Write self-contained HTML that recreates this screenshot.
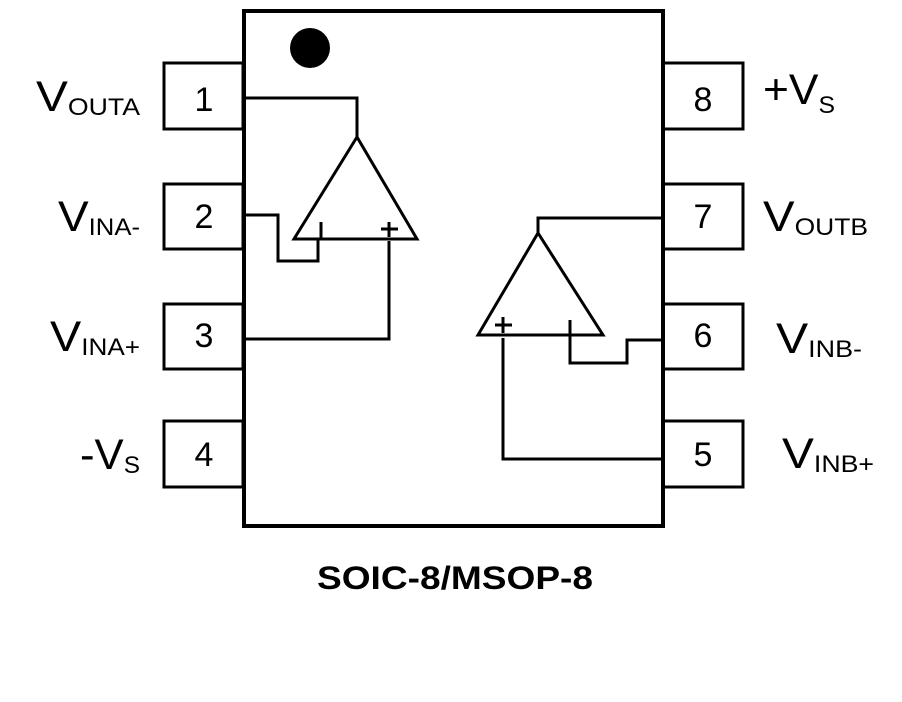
<!DOCTYPE html>
<html><head><meta charset="utf-8"><style>
html,body{margin:0;padding:0;background:#fff;}
svg{display:block;}
text{font-family:"Liberation Sans",Arial,sans-serif;fill:#000;}
</style></head><body>
<svg width="902" height="702" viewBox="0 0 902 702" xmlns="http://www.w3.org/2000/svg">
<g fill="none" stroke="#000">
<g stroke-width="3">
<rect x="164" y="63" width="79" height="66"/>
<rect x="164" y="184" width="79" height="65"/>
<rect x="164" y="304" width="79" height="65"/>
<rect x="164" y="421" width="79" height="66"/>
<rect x="663" y="63" width="80" height="66"/>
<rect x="663" y="184" width="80" height="65"/>
<rect x="663" y="304" width="80" height="65"/>
<rect x="663" y="421" width="80" height="66"/>
</g>
<rect x="244" y="11" width="419" height="515" stroke-width="4" fill="#fff"/>
<g stroke-width="3">
<polygon points="357,137 294,239 417,239"/>
<polyline points="245,98 357,98 357,137"/>
<polyline points="245,215 278,215 278,261 318,261 318,239"/>
<line x1="321" y1="222" x2="321" y2="239"/>
<line x1="381" y1="229" x2="398" y2="229"/>
<line x1="389" y1="222" x2="389" y2="237"/>
<polyline points="245,339 389,339 389,241"/>
<polygon points="538,233 478,335 603,335"/>
<polyline points="538,233 538,218 661,218"/>
<line x1="570" y1="320" x2="570" y2="335"/>
<polyline points="570,335 570,363 627,363 627,340 661,340"/>
<line x1="495" y1="325" x2="512" y2="325"/>
<line x1="503" y1="317" x2="503" y2="333"/>
<polyline points="503,338 503,459 661,459"/>
</g>
</g>
<circle cx="310" cy="48" r="20" fill="#000"/>
<g font-size="34" text-anchor="middle">
<text x="204" y="111">1</text>
<text x="204" y="228">2</text>
<text x="204" y="347">3</text>
<text x="204" y="466">4</text>
<text x="703" y="111">8</text>
<text x="703" y="228">7</text>
<text x="703" y="347">6</text>
<text x="703" y="466">5</text>
</g>
<text x="36" y="111" font-size="43" textLength="104" lengthAdjust="spacingAndGlyphs">V<tspan font-size="24" dy="4">OUTA</tspan></text>
<text x="58" y="231" font-size="43" textLength="82" lengthAdjust="spacingAndGlyphs">V<tspan font-size="24" dy="4">INA-</tspan></text>
<text x="50" y="351" font-size="43" textLength="90" lengthAdjust="spacingAndGlyphs">V<tspan font-size="24" dy="4">INA+</tspan></text>
<text x="80" y="469" font-size="43" textLength="60" lengthAdjust="spacingAndGlyphs">-V<tspan font-size="24" dy="4">S</tspan></text>
<text x="763" y="104" font-size="43" textLength="72" lengthAdjust="spacingAndGlyphs">+V<tspan font-size="24" dy="9">S</tspan></text>
<text x="763" y="231" font-size="43" textLength="105" lengthAdjust="spacingAndGlyphs">V<tspan font-size="24" dy="4">OUTB</tspan></text>
<text x="776" y="353" font-size="43" textLength="86" lengthAdjust="spacingAndGlyphs">V<tspan font-size="24" dy="4">INB-</tspan></text>
<text x="782" y="468" font-size="43" textLength="92" lengthAdjust="spacingAndGlyphs">V<tspan font-size="24" dy="4">INB+</tspan></text>
<text x="317" y="589" font-size="32" font-weight="bold" textLength="276" lengthAdjust="spacingAndGlyphs">SOIC-8/MSOP-8</text>
</svg>
</body></html>
